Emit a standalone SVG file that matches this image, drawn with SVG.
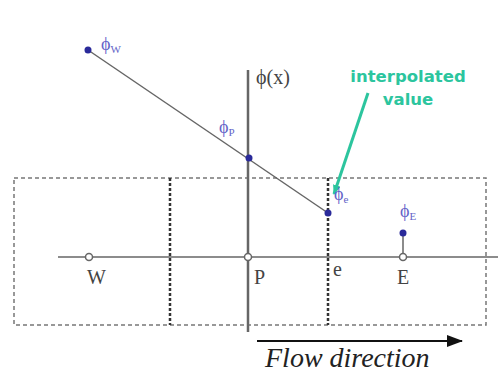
<svg xmlns="http://www.w3.org/2000/svg" width="503" height="386" viewBox="0 0 503 386">
<style>
.box{fill:none;stroke:#777;stroke-width:1.5;stroke-dasharray:4 3}
.face{stroke:#333;stroke-width:2.5;stroke-dasharray:3 2}
.axis{stroke:#666;stroke-width:1.5;fill:none}
.node{fill:#fff;stroke:#666;stroke-width:1.5}
.dot{fill:#2a2a9a}
.lbl{font-family:"Liberation Serif","Times New Roman",serif;font-size:20px;fill:#444}
.phi{font-family:"Liberation Serif",serif;font-size:18px;fill:#6464c8}
.sub{font-size:11px}
.note{font-family:"DejaVu Sans",sans-serif;font-size:16.5px;font-weight:bold;fill:#2cc59e;text-anchor:middle}
.flow{font-family:"Liberation Serif","DejaVu Serif",serif;font-style:italic;font-size:28px;fill:#222}
</style>
<defs>
<marker id="ah" markerWidth="10" markerHeight="8" refX="9" refY="4" orient="auto" markerUnits="userSpaceOnUse"><path d="M0,0 L10,4 L0,8 Z" fill="#2cc59e"/></marker>
<marker id="fa" markerWidth="16" markerHeight="12" refX="15" refY="6" orient="auto" markerUnits="userSpaceOnUse"><path d="M0,0 L16,6 L0,12 Z" fill="#111"/></marker>
</defs>
<g id="grid">
<rect class="box" x="14" y="178" width="472" height="147"/>
<line class="face" x1="170" y1="178" x2="170" y2="325"/>
<line class="face" x1="328" y1="178" x2="328" y2="325"/>
</g>
<g id="connectors">
<line class="axis" x1="58" y1="257" x2="498" y2="257"/>
<line x1="248" y1="70" x2="248" y2="332" stroke="#666" stroke-width="2.5"/>
<line class="axis" x1="88" y1="50" x2="328" y2="213" stroke="#888"/>
<line class="axis" x1="403" y1="233" x2="403" y2="257"/>
<line x1="368" y1="93" x2="334" y2="194" stroke="#2cc59e" stroke-width="3" marker-end="url(#ah)"/>
<line x1="257" y1="341" x2="462" y2="341" stroke="#111" stroke-width="2" marker-end="url(#fa)"/>
</g>
<g id="W"><circle class="node" cx="89" cy="257" r="3.5"/><text class="lbl" x="87" y="284">W</text></g>
<g id="P"><circle class="node" cx="248" cy="257" r="3.5"/><text class="lbl" x="254" y="284">P</text></g>
<g id="e"><text class="lbl" x="333" y="276" font-size="16">e</text></g>
<g id="E"><circle class="node" cx="403" cy="257" r="3.5"/><text class="lbl" x="397" y="284">E</text></g>
<g id="phiW"><circle class="dot" cx="88" cy="50" r="3.5"/><text class="phi" x="101" y="50">ϕ<tspan class="sub" dy="3">W</tspan></text></g>
<g id="phiP"><circle class="dot" cx="249" cy="158" r="3.5"/><text class="phi" x="219" y="133">ϕ<tspan class="sub" dy="3">P</tspan></text></g>
<g id="phie"><circle class="dot" cx="328" cy="213" r="3.5"/><text class="phi" x="334" y="200">ϕ<tspan class="sub" dy="3">e</tspan></text></g>
<g id="phiE"><circle class="dot" cx="403" cy="233" r="3.5"/><text class="phi" x="400" y="217">ϕ<tspan class="sub" dy="3">E</tspan></text></g>
<g id="phix"><text class="lbl" x="256" y="84">ϕ(x)</text></g>
<g id="note"><text class="note" x="408" y="82">interpolated</text><text class="note" x="408" y="105">value</text></g>
<g id="flow"><text class="flow" x="265" y="367">Flow direction</text></g>
</svg>
